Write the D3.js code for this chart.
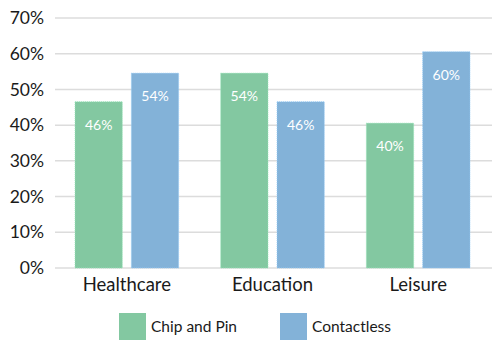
<!DOCTYPE html>
<html>
<head>
<meta charset="utf-8">
<script src="https://cdn.jsdelivr.net/npm/d3@7/dist/d3.min.js"></script>
<style>
  html, body { margin: 0; padding: 0; background: #fff; }
  svg { display: block; font-family: Lato, "Noto Sans", sans-serif; }
</style>
</head>
<body>
<svg id="chart" width="500" height="349"></svg>
<script>
// Payment method share by sector
const categories = ["Healthcare", "Education", "Leisure"];
const seriesNames = ["Chip and Pin", "Contactless"];
const chipAndPin = [46, 54, 40];
const contactless = [54, 46, 60];
const yTicks = [0, 10, 20, 30, 40, 50, 60, 70];
const colors = ["#83c8a1", "#83b2d8"];

const svg = d3.select("#chart");
const margin = { left: 55, right: 8, top: 18, bottom: 81 };
const W = 500, H = 349;
const innerW = W - margin.left - margin.right;
const innerH = H - margin.top - margin.bottom;

const g = svg.append("g").attr("transform", `translate(${margin.left},${margin.top})`);

const y = d3.scaleLinear().domain([0, 70]).range([innerH, 0]);
const x0 = d3.scaleBand().domain(categories).range([0, innerW]).paddingInner(0).paddingOuter(0);
const x1 = d3.scaleBand().domain(seriesNames).range([20, x0.bandwidth() - 22]).paddingInner(0.16);

// Gridlines
g.append("g")
  .selectAll("line")
  .data(yTicks)
  .join("line")
  .attr("x1", 0).attr("x2", innerW)
  .attr("y1", d => y(d)).attr("y2", d => y(d))
  .attr("stroke", "#dcdcdc").attr("stroke-width", 1.5);

// Y axis labels
const yAxis = d3.axisLeft(y).tickValues(yTicks).tickFormat(d => d + "%").tickSize(0).tickPadding(11);
const ya = g.append("g").call(yAxis);
ya.select(".domain").remove();
ya.selectAll("text").attr("font-size", 17.5).attr("fill", "#1a1a1a").attr("font-family", "Lato, sans-serif");

// Bars
const rows = categories.map((c, i) => ({ cat: c, vals: [chipAndPin[i], contactless[i]] }));
const groups = g.selectAll(".grp").data(rows).join("g")
  .attr("class", "grp")
  .attr("transform", d => `translate(${x0(d.cat)},0)`);

const bars = groups.selectAll("g.bar")
  .data(d => d.vals.map((v, k) => ({ v, k, name: seriesNames[k] })))
  .join("g").attr("class", "bar");

bars.append("rect")
  .attr("x", d => x1(d.name))
  .attr("width", x1.bandwidth())
  .attr("y", d => y(d.v) - 2)
  .attr("height", d => innerH - y(d.v) + 2)
  .attr("fill", d => colors[d.k])
  .attr("stroke", d => d3.color(colors[d.k]).brighter(0.4))
  .attr("stroke-width", 0.8)
  .attr("stroke-dasharray", "1,1");

bars.append("text")
  .attr("x", d => x1(d.name) + x1.bandwidth() / 2)
  .attr("y", d => y(d.v) + 26)
  .attr("text-anchor", "middle")
  .attr("fill", "#fff")
  .attr("font-size", 14)
  .text(d => d.v + "%");

// Category labels
g.append("g").selectAll("text")
  .data(categories)
  .join("text")
  .attr("x", d => x0(d) + x0.bandwidth() / 2 - 1)
  .attr("y", innerH + 23)
  .attr("text-anchor", "middle")
  .attr("font-size", 18.5)
  .attr("fill", "#1a1a1a")
  .text(d => d);

// Legend
const legend = svg.append("g").attr("transform", "translate(119,313)");
const legendX = [0, 161];
const items = legend.selectAll("g").data(seriesNames).join("g")
  .attr("transform", (d, i) => `translate(${legendX[i]},0)`);
items.append("rect")
  .attr("width", 27).attr("height", 27)
  .attr("fill", (d, i) => colors[i]);
items.append("text")
  .attr("x", 32).attr("y", 19)
  .attr("font-size", 15.5)
  .attr("fill", "#1a1a1a")
  .text(d => d);
</script>
</body>
</html>
